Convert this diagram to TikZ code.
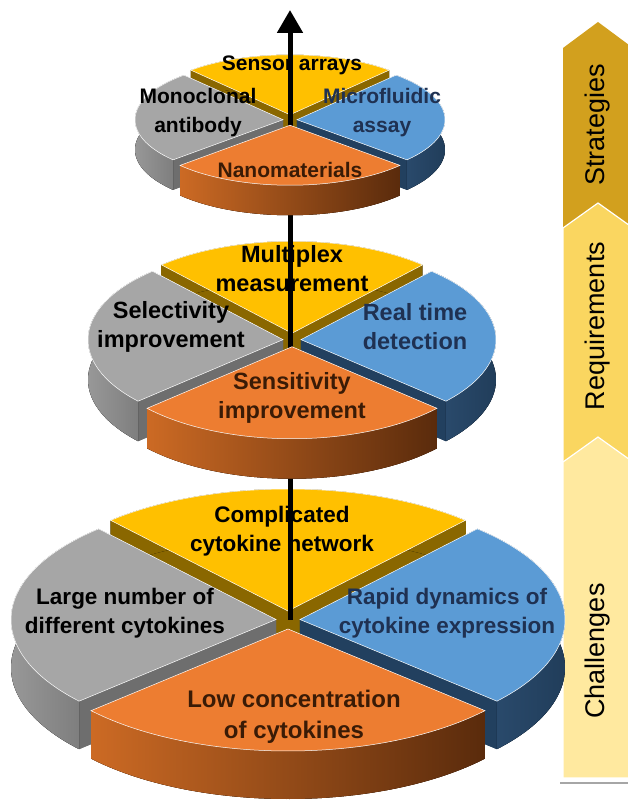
\documentclass[tikz,border=0pt]{standalone}
\usepackage{fontspec}
\setmainfont{Liberation Sans}
\usetikzlibrary{arrows.meta}

\definecolor{goldtop}{HTML}{FFC000}
\definecolor{goldside}{HTML}{8A6700}
\definecolor{greytop}{HTML}{A6A6A6}
\definecolor{greyside}{HTML}{6E6E6E}
\definecolor{greywallL}{HTML}{A3A3A3}
\definecolor{greywallR}{HTML}{777777}
\definecolor{bluetop}{HTML}{5B9BD5}
\definecolor{blueside}{HTML}{22405F}
\definecolor{bluewallL}{HTML}{2C4D70}
\definecolor{bluewallR}{HTML}{1D3853}
\definecolor{orangetop}{HTML}{ED7D31}
\definecolor{orangeside}{HTML}{9A4A14}
\definecolor{orangewallL}{HTML}{CC6A24}
\definecolor{orangewallR}{HTML}{5A2B0C}
\definecolor{stratcol}{HTML}{D2A01E}
\definecolor{reqcol}{HTML}{FAD660}
\definecolor{chalcol}{HTML}{FFE99F}
\definecolor{navytext}{HTML}{1F3152}
\definecolor{browntext}{HTML}{3A1B06}

% one exploded slice of a 3D pie round the current origin
% #1 start angle, #2 end angle, #3 top, #4 side, #5 and #6 wall shading
\newcommand{\pieslice}[6]{%
  \pgfmathsetmacro{\slicemid}{(#1+#2)/2}%
  \pgfmathsetmacro{\slicedy}{0.75*\pied}%
  \begin{scope}[shift={(\slicemid:\pied pt and \slicedy pt)}]
    \fill[#4] (0,-\pieh) -- ++(#1:\pierx pt and \piery pt) arc[start angle=#1,end angle=#2,x radius=\pierx pt,y radius=\piery pt] -- cycle;
    \fill[#4] (0,0) -- (#1:\pierx pt and \piery pt) -- ++(0,-\pieh) -- (0,-\pieh) -- cycle;
    \fill[#4] (0,0) -- (#2:\pierx pt and \piery pt) -- ++(0,-\pieh) -- (0,-\pieh) -- cycle;
    \fill[left color=#5,right color=#6] (#1:\pierx pt and \piery pt) arc[start angle=#1,end angle=#2,x radius=\pierx pt,y radius=\piery pt]
      -- ++(0,-\pieh) arc[start angle=#2,end angle=#1,x radius=\pierx pt,y radius=\piery pt] -- cycle;
    \filldraw[fill=#3,draw=white,line width=0.5pt] (0,0) -- (#1:\pierx pt and \piery pt) arc[start angle=#1,end angle=#2,x radius=\pierx pt,y radius=\piery pt] -- cycle;
  \end{scope}}

\begin{document}
\begin{tikzpicture}
  [x=1pt,y=1pt,
   top label/.style={font=\fontsize{21}{29}\selectfont\bfseries,align=center,inner sep=0pt},
   mid label/.style={font=\fontsize{23.5}{29}\selectfont\bfseries,align=center,inner sep=0pt},
   low label/.style={font=\fontsize{22.5}{29.5}\selectfont\bfseries,align=center,inner sep=0pt},
   bar label/.style={font=\fontsize{27}{30}\selectfont,rotate=90,inner sep=0pt}]
  \useasboundingbox (0,0) rectangle (628,811);
  \clip (0,0) rectangle (628,811);

  % stage bar on the right
  \fill[stratcol] (563,583) -- (563,763) -- (598,789) -- (633,763) -- (633,583) -- cycle;
  \filldraw[fill=reqcol,draw=white,line width=1.2pt] (563,349) -- (563,583) -- (598,608) -- (633,583) -- (633,349) -- cycle;
  \filldraw[fill=chalcol,draw=white,line width=1.2pt] (563,33) -- (563,349) -- (598,374) -- (633,349) -- (633,33) -- cycle;
  \draw[gray!70,line width=1.5pt] (560,28) -- (628,28);
  \node[bar label] (Strategies)   at (598,686) {Strategies};
  \node[bar label] (Requirements) at (598,485) {Requirements};
  \node[bar label] (Challenges)   at (598,160) {Challenges};

  % back and side slices of the three pies
  \foreach \pcx/\pcy/\pierx/\piery/\pieh/\pied in {290/691/148/60/30/7, 292/471/195/92/40/9, 288/191/265/122/48/12}{
    \begin{scope}[shift={(\pcx,\pcy)}]
      \pieslice{48}{132}{goldtop}{goldside}{goldside}{goldside}
      \pieslice{132}{222}{greytop}{greyside}{greywallL}{greywallR}
      \pieslice{318}{408}{bluetop}{blueside}{bluewallL}{bluewallR}
    \end{scope}
  }

  \node[top label] (SensorArrays) at (292,746) {Sensor arrays};
  \node[mid label] (Multiplex)    at (292,542) {Multiplex\\measurement};
  \node[low label] (Complicated)  at (282,280) {Complicated\\cytokine network};

  % the arrow through the pies
  \coordinate (ArrowBase) at (290,191);
  \coordinate (ArrowTip)  at (290,801);
  \draw[line width=5pt,-{Triangle[width=25pt,length=23pt]}] (ArrowBase) -- (ArrowTip);

  % front slices
  \foreach \pcx/\pcy/\pierx/\piery/\pieh/\pied in {290/691/148/60/30/7, 292/471/195/92/40/9, 288/191/265/122/48/12}{
    \begin{scope}[shift={(\pcx,\pcy)}]
      \pieslice{222}{318}{orangetop}{orangeside}{orangewallL}{orangewallR}
    \end{scope}
  }

  \node[top label] (Monoclonal)   at (198,698) {Monoclonal\\antibody};
  \node[top label,navytext] (Microfluidic) at (382,698) {Microfluidic\\assay};
  \node[top label,browntext] (Nanomaterials) at (290,641) {Nanomaterials};

  \node[mid label] (Selectivity)  at (171,484) {Selectivity\\improvement};
  \node[mid label,navytext] (RealTime) at (415,484) {Real time\\detection};
  \node[mid label,browntext] (Sensitivity) at (292,413) {Sensitivity\\improvement};

  \node[low label] (LargeNumber)  at (125,198) {Large number of\\different cytokines};
  \node[low label,navytext] (RapidDynamics) at (447,198) {Rapid dynamics of\\cytokine expression};
  \node[low label,browntext,font=\fontsize{24}{31}\selectfont\bfseries] (LowConcentration) at (294,94) {Low concentration\\of cytokines};
\end{tikzpicture}
\end{document}
